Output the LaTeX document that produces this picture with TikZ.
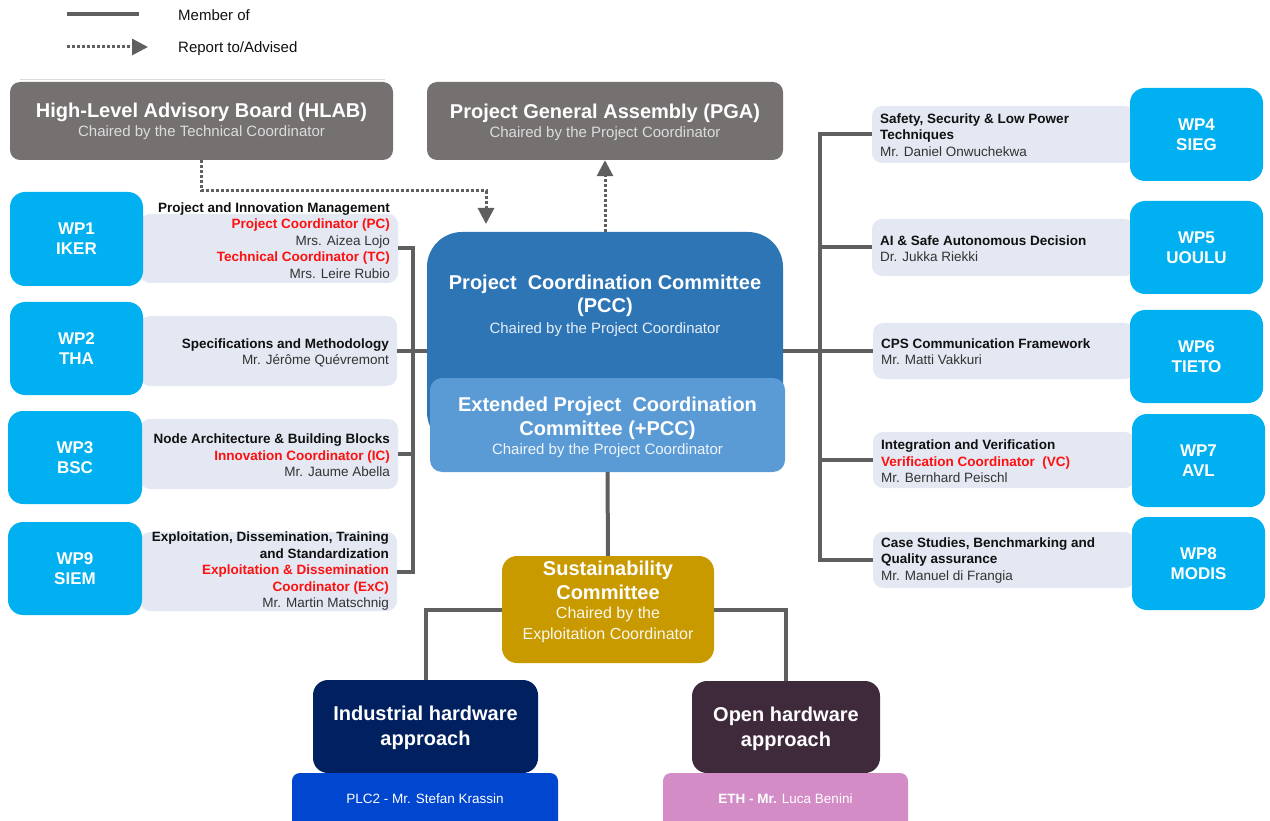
\documentclass[tikz,border=0pt]{standalone}
\usepackage{fontspec}
\setmainfont{Liberation Sans}
\usetikzlibrary{arrows.meta}
\definecolor{hlabgray}{HTML}{767171}
\definecolor{wpblue}{HTML}{00B0F0}
\definecolor{lightbox}{HTML}{E3E8F2}
\definecolor{pccblue}{HTML}{2E75B6}
\definecolor{extblue}{HTML}{5B9BD5}
\definecolor{sustgold}{HTML}{C99A00}
\definecolor{indnavy}{HTML}{002060}
\definecolor{plcblue}{HTML}{0046CE}
\definecolor{openplum}{HTML}{3F2A3C}
\definecolor{ethpink}{HTML}{D48CC7}
\definecolor{linegray}{HTML}{5F5F5F}
\definecolor{tred}{HTML}{FF1010}
\definecolor{subgray}{HTML}{DCDCDC}
\definecolor{namegray}{HTML}{333333}
\definecolor{titleblack}{HTML}{111111}
\tikzset{
  member/.style={draw=linegray, line width=4pt},
  report/.style={draw=linegray, line width=3pt, dash pattern=on 3pt off 2pt, -{Triangle[length=16pt,width=16pt]}},
  greybox/.style={fill=hlabgray, rounded corners=10pt, inner sep=0},
  wpbox/.style={fill=wpblue, rounded corners=15pt, inner sep=0, text=white, align=center, font=\bfseries\fontsize{17}{20}\selectfont},
  lbox/.style={fill=lightbox, rounded corners=10pt, inner sep=0},
  wptext/.style={inner sep=0, text=namegray, font=\fontsize{13.5}{16.5}\selectfont},
  bigtitle/.style={inner sep=0, text=white, align=center, font=\bfseries\fontsize{20}{24}\selectfont},
  subtitle/.style={inner sep=0, text=subgray, align=center, font=\fontsize{15}{18}\selectfont},
  legtext/.style={inner sep=0, anchor=west, text=titleblack, font=\fontsize{15}{18}\selectfont}
}
\newcommand{\bt}[1]{\textbf{\textcolor{titleblack}{#1}}}
\newcommand{\rt}[1]{\textbf{\textcolor{tred}{#1}}}
\begin{document}
\begin{tikzpicture}[x=1pt,y=-1pt]
\useasboundingbox (0,0) rectangle (1270,821);
% legend
\coordinate (lg1a) at (67,14);
\coordinate (lg1b) at (139,14);
\coordinate (lg2a) at (67,47);
\coordinate (lg2b) at (148,47);
\draw[member] (lg1a) -- (lg1b);
\draw[report] (lg2a) -- (lg2b);
\node[legtext] (lgt1) at (178,15) {Member of};
\node[legtext] (lgt2) at (178,49) {Report to/Advised};
\coordinate (sepa) at (20,79);
\coordinate (sepb) at (385,79);
\draw[draw=black!14, line width=0.8pt] (sepa) -- (sepb);

% top boxes
\node[greybox, minimum width=383, minimum height=78] (hlab) at (201.5,121) {};
\node[bigtitle] (hlabt) at (201.5,112) {High-Level Advisory Board (HLAB)};
\node[subtitle] (hlabs) at (201.5,133) {Chaired by the Technical Coordinator};
\node[greybox, minimum width=356, minimum height=78] (pga) at (605,121) {};
\node[bigtitle] (pgat) at (605,113) {Project General Assembly (PGA)};
\node[subtitle] (pgas) at (605,134) {Chaired by the Project Coordinator};

% PCC
\node[fill=pccblue, rounded corners=35pt, inner sep=0, minimum width=356, minimum height=215] (pcc) at (605,339.5) {};
\node[bigtitle, font=\bfseries\fontsize{20}{23}\selectfont] (pcct) at (605,296) {Project~ Coordination Committee\\(PCC)};
\node[subtitle, text=white!88!pccblue] (pccs) at (605,329.5) {Chaired by the Project Coordinator};
\node[fill=extblue, rounded corners=12pt, inner sep=0, minimum width=355, minimum height=94] (ext) at (607.5,425) {};
\node[bigtitle] (extt) at (607.5,418) {Extended Project~ Coordination\\Committee (+PCC)};
\node[subtitle, text=white!90!extblue] (exts) at (607.5,450.5) {Chaired by the Project Coordinator};

% light boxes
\node[lbox, minimum width=258, minimum height=69] (l1) at (269,248.5) {};
\node[lbox, minimum width=257, minimum height=70] (l2) at (268.5,351) {};
\node[lbox, minimum width=258, minimum height=70] (l3) at (269,454) {};
\node[lbox, minimum width=257, minimum height=79] (l9) at (268.5,571.5) {};
\node[lbox, minimum width=263, minimum height=57] (l4) at (1003.5,134.5) {};
\node[lbox, minimum width=263, minimum height=57] (l5) at (1003.5,247.5) {};
\node[lbox, minimum width=262, minimum height=56] (l6) at (1004,351) {};
\node[lbox, minimum width=262, minimum height=56] (l7) at (1004,460) {};
\node[lbox, minimum width=262, minimum height=56] (l8) at (1004,560) {};

% connectors (member of)
\coordinate (lbb) at (413,571.5);
\coordinate (rbb) at (820,560);
\draw[member] (l1.east) -| (lbb) -- (l9.east);
\draw[member] (l2.east) -- (l2.east -| pcc.west);
\draw[member] (l3.east) -- (l3.east -| lbb);
\draw[member] (l4.west) -| (rbb) -- (l8.west);
\draw[member] (l5.west) -- (l5.west -| rbb);
\draw[member] (l7.west) -- (l7.west -| rbb);
\draw[member] (pcc.east |- l6.west) -- (l6.west);

% WP boxes
\node[wpbox, minimum width=133, minimum height=94] (wp1) at (76.5,239) {WP1\\IKER};
\node[wpbox, minimum width=133, minimum height=93] (wp2) at (76.5,348.5) {WP2\\THA};
\node[wpbox, minimum width=134, minimum height=93] (wp3) at (75,457.5) {WP3\\BSC};
\node[wpbox, minimum width=134, minimum height=93] (wp9) at (75,568.5) {WP9\\SIEM};
\node[wpbox, minimum width=133, minimum height=93] (wp4) at (1196.5,134.5) {WP4\\SIEG};
\node[wpbox, minimum width=133, minimum height=93] (wp5) at (1196.5,247.5) {WP5\\UOULU};
\node[wpbox, minimum width=133, minimum height=93] (wp6) at (1196.5,356.5) {WP6\\TIETO};
\node[wpbox, minimum width=133, minimum height=93] (wp7) at (1198.5,460.5) {WP7\\AVL};
\node[wpbox, minimum width=133, minimum height=93] (wp8) at (1198.5,563.5) {WP8\\MODIS};

% WP texts left
\node[wptext, anchor=east, align=right] (t1) at (390,240.5) {\bt{Project and Innovation Management}\\\rt{Project Coordinator (PC)}\\Mrs. Aizea Lojo\\\rt{Technical Coordinator (TC)}\\Mrs. Leire Rubio};
\node[wptext, anchor=east, align=right] (t2) at (389,353) {\bt{Specifications and Methodology}\\Mr. Jérôme Quévremont};
\node[wptext, anchor=east, align=right] (t3) at (390,455.5) {\bt{Node Architecture \& Building Blocks}\\\rt{Innovation Coordinator (IC)}\\Mr. Jaume Abella};
\node[wptext, anchor=east, align=right] (t9) at (389,571.5) {\bt{Exploitation, Dissemination, Training}\\\bt{and Standardization}\\\rt{Exploitation \& Dissemination}\\\rt{Coordinator (ExC)}\\Mr. Martin Matschnig};
% WP texts right
\node[wptext, anchor=west, align=left] (t4) at (880,135) {\bt{Safety, Security \& Low Power}\\\bt{Techniques}\\Mr. Daniel Onwuchekwa};
\node[wptext, anchor=west, align=left] (t5) at (880,248.5) {\bt{AI \& Safe Autonomous Decision}\\Dr. Jukka Riekki};
\node[wptext, anchor=west, align=left] (t6) at (881,351.5) {\bt{CPS Communication Framework}\\Mr. Matti Vakkuri};
\node[wptext, anchor=west, align=left] (t7) at (881,461.5) {\bt{Integration and Verification}\\\rt{Verification Coordinator~ (VC)}\\Mr. Bernhard Peischl};
\node[wptext, anchor=west, align=left] (t8) at (881,560.5) {\bt{Case Studies, Benchmarking and}\\\bt{Quality assurance}\\Mr. Manuel di Frangia};

% report arrows
\coordinate (hbend) at (486,191);
\coordinate (arrend) at (486,224);
\draw[report] (hlab.south) |- (hbend) -- (arrend);
\draw[report] (pcc.north) -- (pga.south);

% sustainability
\node[fill=sustgold, rounded corners=15pt, inner sep=0, minimum width=212, minimum height=107] (sust) at (608,609.5) {};
\draw[member] (ext.south) -- (sust.north);
\node[bigtitle] (sustt) at (608,580.5) {Sustainability\\Committee};
\node[subtitle, text=white!92!sustgold, font=\fontsize{16}{21}\selectfont] (susts) at (608,625) {Chaired by the\\Exploitation Coordinator};

% hardware approaches
\node[fill=indnavy, rounded corners=15pt, inner sep=0, minimum width=225, minimum height=93] (ind) at (425.5,726.5) {};
\node[fill=openplum, rounded corners=15pt, inner sep=0, minimum width=188, minimum height=92] (open) at (786,727) {};
\draw[member] (sust.west) -| (ind.north);
\draw[member] (sust.east) -| (open.north);
\node[bigtitle, font=\bfseries\fontsize{20}{25}\selectfont] (indt) at (425.5,728) {Industrial hardware\\approach};
\node[bigtitle, font=\bfseries\fontsize{20}{25}\selectfont] (opent) at (786,729) {Open hardware\\approach};
\node[fill=plcblue, rounded corners=8pt, inner sep=0, minimum width=266, minimum height=56] (plc) at (425,801) {};
\node[inner sep=0, text=white, font=\fontsize{13.5}{16}\selectfont] (plct) at (425,798.5) {PLC2 - Mr. Stefan Krassin};
\node[fill=ethpink, rounded corners=8pt, inner sep=0, minimum width=245, minimum height=56] (eth) at (785.5,801) {};
\node[inner sep=0, text=white, font=\fontsize{13.5}{16}\selectfont] (etht) at (785.5,798.5) {\textbf{ETH - Mr.} Luca Benini};
\end{tikzpicture}
\end{document}
